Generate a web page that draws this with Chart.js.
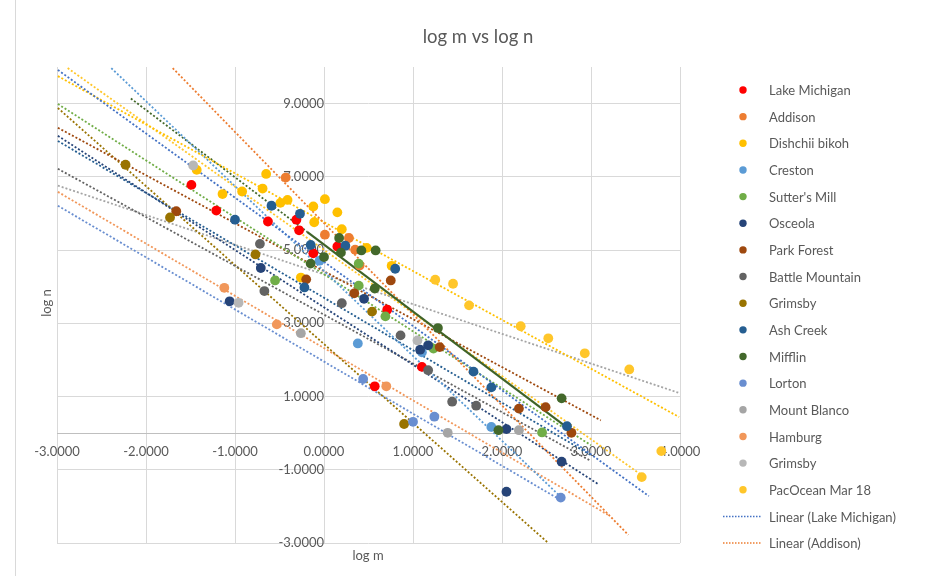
<!DOCTYPE html>
<html><head><meta charset="utf-8">
<script src="https://cdn.jsdelivr.net/npm/chart.js@4.4.1/dist/chart.umd.min.js"></script>
<style>html,body{margin:0;padding:0;background:#fff;}#wrap{width:925px;height:576px;}</style>
</head><body><div id="wrap"><canvas id="c" width="925" height="576"></canvas></div>
<script>
// ---- data (log m, log n) ----
const seriesNames = ["Lake Michigan","Addison","Dishchii bikoh","Creston","Sutter's Mill","Osceola","Park Forest","Battle Mountain","Grimsby","Ash Creek","Mifflin","Lorton","Mount Blanco","Hamburg","Grimsby","PacOcean Mar 18"];
const seriesColors = ["#FF0000","#ED7D31","#FFC000","#5B9BD5","#70AD47","#264478","#9E480E","#636363","#997300","#255E91","#43682B","#698ED0","#A5A5A5","#F1975A","#B7B7B7","#FFC62A"];

const lakeMichigan = [[-1.49,6.78],[-1.21,6.08],[-0.63,5.78],[-0.31,5.83],[-0.28,5.54],[-0.12,4.91],[0.15,5.10],[0.71,3.37],[1.10,1.81],[0.57,1.28]];
const addison = [[-0.43,6.98],[0.01,5.42],[0.28,5.33],[0.35,5.01],[0.40,4.58]];
const dishchiiBikoh = [[-1.43,7.19],[-1.14,6.53],[-0.92,6.60],[-0.69,6.68],[-0.65,7.08],[-0.49,6.29],[-0.41,6.37],[-0.12,6.19],[0.01,6.39],[0.15,6.03],[-0.11,5.76],[0.20,5.57],[0.48,5.06],[0.76,4.57],[-0.26,4.25]];
const creston = [[-0.05,4.71],[0.38,2.45],[1.10,2.21],[1.88,0.17]];
const suttersMill = [[-0.55,4.17],[0.39,4.63],[0.39,4.03],[0.69,3.19],[1.23,2.31],[2.45,0.02]];
const osceola = [[-0.71,4.51],[-1.06,3.60],[0.45,3.67],[1.08,2.28],[1.17,2.40],[2.05,0.11],[2.67,-0.78],[2.05,-1.60]];
const parkForest = [[-1.66,6.06],[0.75,4.17],[0.34,3.82],[1.30,2.35],[2.19,0.67],[2.49,0.71],[2.78,0.01],[-0.20,4.20]];
const battleMountain = [[-0.72,5.17],[-0.67,3.88],[0.20,3.55],[0.86,2.67],[1.17,1.72],[1.44,0.86],[1.71,0.75]];
const grimsby = [[-2.23,7.33],[-1.73,5.89],[-0.77,4.88],[0.54,3.32],[0.90,0.25]];
const ashCreek = [[-1.00,5.83],[-0.59,6.21],[-0.27,5.99],[-0.15,5.14],[0.24,5.12],[-0.22,3.98],[0.80,4.49],[1.68,1.68],[1.88,1.25],[2.73,0.19]];
const mifflin = [[-0.15,4.63],[0.00,4.81],[0.17,5.33],[0.19,4.93],[0.42,4.99],[0.58,4.99],[0.57,3.95],[1.28,2.87],[1.96,0.08],[2.67,0.95]];
const lorton = [[0.44,1.48],[1.00,0.31],[1.24,0.45],[2.66,-1.76]];
const mountBlanco = [[-0.26,2.73],[1.39,0.01],[2.19,0.08]];
const hamburg = [[-1.12,3.97],[-0.53,2.97],[0.70,1.28]];
const grimsbyB = [[-1.47,7.31],[-0.96,3.56],[1.05,2.53]];
const pacOcean = [[1.25,4.19],[1.45,4.08],[1.63,3.49],[2.21,2.92],[2.52,2.59],[2.93,2.18],[3.43,1.74],[3.57,-1.20],[3.79,-0.49]];
const seriesData = [lakeMichigan,addison,dishchiiBikoh,creston,suttersMill,osceola,parkForest,battleMountain,grimsby,ashCreek,mifflin,lorton,mountBlanco,hamburg,grimsbyB,pacOcean];

// trendline end points
const trendNames = ["Linear (Lake Michigan)","Linear (Addison)","Linear (Dishchii bikoh)","Linear (Creston)","Linear (Sutter's Mill)","Linear (Osceola)","Linear (Park Forest)","Linear (Battle Mountain)","Linear (Grimsby)","Linear (Ash Creek)","Linear (Mifflin)","Linear (Lorton)","Linear (Mount Blanco)","Linear (Hamburg)","Linear (PacOcean Mar 18)","Linear (Mifflin) ext"];
const trendColors = ["#4472C4","#ED7D31","#FFC000","#5B9BD5","#70AD47","#264478","#9E480E","#636363","#997300","#255E91","#3F6328","#698ED0","#A5A5A5","#F1975A","#FFC62A","#43682B"];
const trendSolid = [false,false,false,false,false,false,false,false,false,false,true,false,false,false,false,false];
const trendLines = [
  [[-2.99,9.92],[3.65,-1.72]],
  [[-1.70,9.97],[3.42,-2.78]],
  [[-2.99,9.75],[3.99,0.44]],
  [[-2.39,9.97],[2.66,-1.74]],
  [[-2.99,8.99],[3.00,-0.33]],
  [[-2.99,8.12],[3.08,-1.39]],
  [[-2.99,8.34],[3.11,0.35]],
  [[-2.99,7.22],[3.00,-0.76]],
  [[-2.99,8.88],[2.52,-3.00]],
  [[-2.99,7.98],[3.00,-0.60]],
  [[-0.19,5.50],[2.80,0.03]],
  [[-2.99,6.21],[2.66,-1.83]],
  [[-2.99,6.76],[4.00,1.09]],
  [[-2.99,6.59],[3.19,-2.23]],
  [[-2.88,9.97],[3.60,-1.20]],
  [[-2.17,9.14],[-0.19,5.50]]
];
const yTicks = [-3,-1,1,3,5,7,9];
const xTicks = [-3,-2,-1,0,1,2,3,4];
const legendCount = 18;

const datasets = [];
seriesData.forEach((d,i)=>{
  datasets.push({type:'scatter',label:seriesNames[i],data:d.map(p=>({x:p[0],y:p[1]})),
    backgroundColor:seriesColors[i],borderWidth:0,pointRadius:4.9,pointHoverRadius:4.9,order:100-i});
});
trendLines.forEach((d,i)=>{
  datasets.push({type:'line',label:trendNames[i],data:d.map(p=>({x:p[0],y:p[1]})),
    borderColor:trendColors[i],borderWidth:trendSolid[i]?2.2:1.8,borderDash:trendSolid[i]?[]:[2,2],
    pointRadius:0,fill:false,tension:0,order:trendSolid[i]?150:200,isTrend:true});
});

const deco = {
  id:'deco',
  afterDraw(chart){
    const ctx = chart.ctx;
    ctx.save();
    ctx.strokeStyle = '#D9D9D9'; ctx.lineWidth = 1;
    ctx.beginPath(); ctx.moveTo(15.5,0); ctx.lineTo(15.5,576); ctx.stroke();
    ctx.fillStyle = '#595959';
    ctx.font = '18.5px Lato'; ctx.textAlign = 'center'; ctx.textBaseline = 'middle';
    ctx.fillText('log m vs log n', 478, 37);
    ctx.font = '13px Lato';
    ctx.fillText('log m', 368, 556);
    ctx.save(); ctx.translate(47, 303); ctx.rotate(-Math.PI/2); ctx.fillText('log n', 0, 0); ctx.restore();
    ctx.textAlign = 'left';
    for (let i=0;i<legendCount;i++){
      const ds = chart.data.datasets[i];
      const y = 90 + i*26.65;
      if (!ds.isTrend){
        ctx.fillStyle = ds.backgroundColor;
        ctx.beginPath(); ctx.arc(743, y, 3.7, 0, Math.PI*2); ctx.fill();
      } else {
        ctx.strokeStyle = ds.borderColor; ctx.lineWidth = 1.5; ctx.setLineDash([1.5,1.5]);
        ctx.beginPath(); ctx.moveTo(723, y); ctx.lineTo(762, y); ctx.stroke(); ctx.setLineDash([]);
      }
      ctx.fillStyle = '#595959';
      ctx.fillText(ds.label, 769, y+1);
    }
    ctx.restore();
  }
};

Chart.defaults.font.family = 'Lato';
new Chart(document.getElementById('c'), {
  data:{datasets},
  options:{
    responsive:false, animation:false, devicePixelRatio:1,
    layout:{padding:{left:57,right:245,top:67,bottom:33}},
    plugins:{legend:{display:false},title:{display:false},tooltip:{enabled:false}},
    scales:{
      x:{type:'linear',min:-3,max:4,position:{y:0},
        afterBuildTicks(s){s.ticks = xTicks.map(v=>({value:v}));},
        ticks:{callback:v=>v.toFixed(4),color:'#595959',font:{size:13},padding:11,maxRotation:0,autoSkip:false},
        grid:{color:'#D9D9D9',drawTicks:false,lineWidth:1},
        border:{display:true,color:'#BFBFBF',width:1}},
      y:{type:'linear',min:-3,max:10,position:{x:0},
        afterBuildTicks(s){s.ticks = yTicks.map(v=>({value:v}));},
        ticks:{callback:v=>v.toFixed(4),color:'#595959',font:{size:13},padding:13,autoSkip:false},
        grid:{color:'#D9D9D9',drawTicks:false,lineWidth:1},
        border:{display:false}}
    }
  },
  plugins:[deco]
});
</script></body></html>
